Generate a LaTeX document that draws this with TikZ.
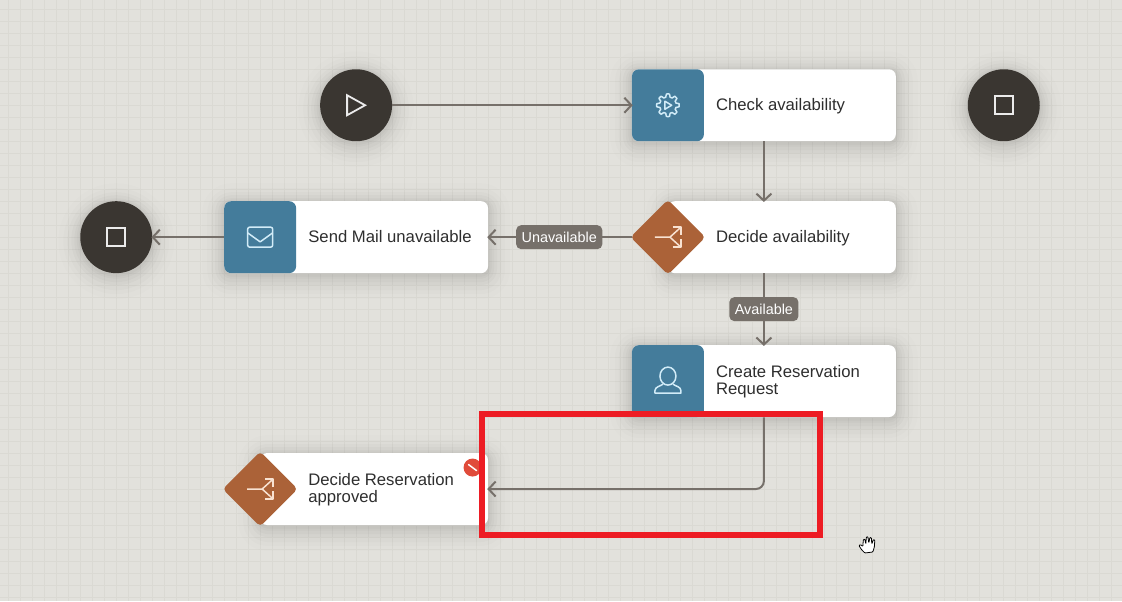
\documentclass[tikz,border=0pt]{standalone}
\usepackage{fontspec}
\setmainfont{Liberation Sans}
\usetikzlibrary{arrows.meta, positioning, shapes.geometric}

\definecolor{canvasbg}{HTML}{E2E1DC}
\definecolor{gridline}{HTML}{DAD9D3}
\definecolor{taskblue}{HTML}{447C9B}
\definecolor{gatebrown}{HTML}{AB6238}
\definecolor{eventdark}{HTML}{3A3631}
\definecolor{flowgrey}{HTML}{76706A}
\definecolor{markred}{HTML}{ED1C24}
\definecolor{badgered}{HTML}{E04B3A}
\definecolor{cardtxt}{HTML}{2E2E2E}
\definecolor{iconblue}{HTML}{D2ECF8}
\definecolor{iconbrown}{HTML}{F8E2D2}

\begin{document}
\begin{tikzpicture}[
    x=1pt, y=-1pt,
    softshadow/.style={
        preaction={draw=black, draw opacity=.009, line width=44pt, line join=round, transform canvas={yshift=-4pt}},
        preaction={draw=black, draw opacity=.012, line width=34pt, line join=round, transform canvas={yshift=-4pt}},
        preaction={draw=black, draw opacity=.015, line width=26pt, line join=round, transform canvas={yshift=-4pt}},
        preaction={draw=black, draw opacity=.018, line width=18pt, line join=round, transform canvas={yshift=-3pt}},
        preaction={draw=black, draw opacity=.020, line width=12pt, line join=round, transform canvas={yshift=-3pt}},
        preaction={draw=black, draw opacity=.022, line width=7pt, line join=round, transform canvas={yshift=-2pt}},
        preaction={draw=black, draw opacity=.024, line width=3pt, line join=round, transform canvas={yshift=-2pt}}},
    event/.style={circle, fill=eventdark, minimum size=72pt, inner sep=0pt, softshadow},
    taskcard/.style={rectangle, fill=white, rounded corners=7pt, minimum width=264pt, minimum height=72pt, inner sep=0pt, softshadow,
        path picture={\fill[taskblue] (path picture bounding box.south west) rectangle ++(72pt,72pt);}},
    gatecard/.style={rectangle, fill=white, rounded corners=7pt, minimum width=228pt, minimum height=72pt, inner sep=0pt, softshadow},
    gate/.style={diamond, fill=gatebrown, minimum size=75pt, inner sep=0pt, rounded corners=4pt},
    cardtext/.style={anchor=west, align=left, text=cardtxt, inner sep=0pt, font=\fontsize{16.7}{17}\selectfont},
    flowlabel/.style={rectangle, fill=flowgrey, text=white, rounded corners=5pt, minimum height=24pt, inner xsep=5.5pt, inner ysep=0pt, font=\fontsize{14.4}{15}\selectfont},
    flow/.style={draw=flowgrey, line width=2pt, shorten >=-1pt, -{Straight Barb[length=7pt,width=15pt]}},
    iconline/.style={line width=1.5pt, line join=round, fill=none},
    blueicon/.style={iconline, draw=iconblue},
    brownicon/.style={iconline, draw=iconbrown},
    darkicon/.style={line width=1.8pt, draw=white!92!black, line join=miter},
    redmark/.style={rectangle, draw=markred, line width=5.8pt, inner sep=0pt},
    node distance=60pt and 72pt
]

% grid
\fill[canvasbg] (0,0) rectangle (1122,601);
\draw[gridline, line width=.6pt, step=12pt, shift={(8,9)}] (-8,-9) grid (1114,592);

% events
\node[event] (start) at (356,105) {};
\node[event] (endtop) at (1004,105) {};
\node[event] (endmail) at (116,237) {};

% right column
\node[taskcard] (check) at (764,105) {};
\node[gatecard] (decidecard) at (782,237) {};
\node[gate] (decide) at (668,237) {};
\node[taskcard] (create) at (764,381) {};

% left column
\node[taskcard] (mail) at (356,237) {};
\node[gatecard] (approvecard) at (374,489) {};
\node[gate] (approve) at (260,489) {};

% card texts
\node[cardtext] at (716,106) (checktxt) {Check availability};
\node[cardtext] at (716,238) (decidetxt) {Decide availability};
\node[cardtext] at (716,382) (createtxt) {Create Reservation\\Request};
\node[cardtext] at (308,236.5) (mailtxt) {Send Mail unavailable};
\node[cardtext] at (308,490) (approvetxt) {Decide Reservation\\approved};

% icons
\draw[darkicon] (347,95) -- (365,105) -- (347,115) -- cycle;
\draw[darkicon] (995,96) rectangle (1013,114);
\draw[darkicon] (107,228) rectangle (125,246);

\draw[blueicon, shift={(668,105)}] plot[smooth cycle, samples=96, domain=0:356.25] (\x:{9.8+1.5*max(min(2*cos(8*\x),1),-1)});
\draw[blueicon, shift={(668,105)}] (-3,-4) -- (3.7,0) -- (-3,4) -- cycle;

\draw[blueicon, rounded corners=2pt] (247.5,227) rectangle (272.5,247);
\draw[blueicon] (247.5,232.7) -- (260,241.7) -- (272.5,232.7);

\draw[blueicon, shift={(668,381)}] (0,-5) ellipse (8pt and 9pt);
\draw[blueicon, shift={(668,381)}] (-5,3) .. controls (-7,5) and (-13,5.5) .. (-13,9.5) -- (-13,12) -- (13,12) -- (13,9.5) .. controls (13,5.5) and (7,5) .. (5,3);

\foreach \gx/\gy in {668/237, 260/489} {
  \begin{scope}[shift={(\gx,\gy)}]
    \draw[brownicon] (-13,0) -- (2,0) -- (13,-10);
    \draw[brownicon] (2,0) -- (13,10);
    \draw[brownicon] (5,-10) -- (13,-10) -- (13,-2);
    \draw[brownicon] (5,10) -- (13,10) -- (13,2);
  \end{scope}
}

% connectors
\draw[flow] (start) -- (check.west);
\draw[flow] (check.south) -- (decidecard.north -| check.south);
\draw[flow, shorten <=-2pt] (decide) -- node[flowlabel, pos=.5] (unavail) {Unavailable} (mail.east);
\draw[flow] (mail.west) -- (endmail);
\draw[flow] (decidecard.south -| create.north) -- node[flowlabel, pos=.5] (avail) {Available} (create.north);
\draw[flow, rounded corners=8pt] (create.south) |- (approvecard.east);

% error badge
\node[circle, fill=badgered, minimum size=18pt, inner sep=0pt] (badge) at (472.5,467.5) {};
\draw[white, line width=1.5pt, line cap=round] (badge.center) ++(-4,-3) -- ++(8,6);

% highlight
\node[redmark, minimum width=337.5pt, minimum height=121.5pt] (mark) at (651,474.5) {};

% hand cursor
\draw[black, fill=white, line width=.8pt, rounded corners=.8pt, line join=round]
  (859,545.5) -- (860.5,544.5) -- (863,546.5) -- (863.5,539.5) -- (865,539) -- (866,544) -- (866.5,537)
  -- (868,536.5) -- (869,543) -- (870,537.5) -- (871.5,537.5) -- (872,544) -- (873.5,539.5) -- (875,540)
  -- (874.5,547) -- (873,552) -- (865,553) -- (862,550) -- cycle;

\useasboundingbox (0,0) rectangle (1122,601);
\end{tikzpicture}
\end{document}
